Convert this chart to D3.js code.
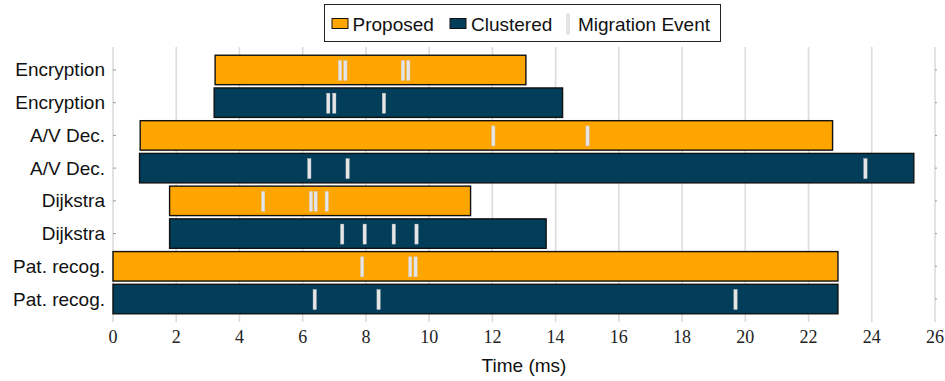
<!DOCTYPE html>
<html>
<head>
<meta charset="utf-8">
<script src="https://cdn.jsdelivr.net/npm/d3@7"></script>
<style>
  html, body { margin: 0; padding: 0; background: #fff; }
  svg { display: block; }
</style>
</head>
<body>
<svg id="chart" width="945" height="381"></svg>
<script>
// Rows from top to bottom: each benchmark as Proposed, then Clustered
const rowLabels = ["Encryption", "Encryption", "A/V Dec.", "A/V Dec.",
                   "Dijkstra", "Dijkstra", "Pat. recog.", "Pat. recog."];
const rowSeries = ["Proposed", "Clustered", "Proposed", "Clustered",
                   "Proposed", "Clustered", "Proposed", "Clustered"];
const startTimes = [3.23, 3.2, 0.86, 0.84, 1.79, 1.79, 0, 0];
const endTimes   = [13.06, 14.22, 22.76, 25.33, 11.31, 13.7, 22.93, 22.93];
// Migration event times (ms) per row
const migrationEvents = [
  [7.18, 7.35, 9.17, 9.34],
  [6.81, 7.0, 8.57],
  [12.03, 15.01],
  [6.21, 7.42, 23.8],
  [4.75, 6.26, 6.41, 6.76],
  [7.25, 7.96, 8.88, 9.6],
  [7.88, 9.4, 9.57],
  [6.38, 8.4, 19.69]
];
const xTicks = [0, 2, 4, 6, 8, 10, 12, 14, 16, 18, 20, 22, 24, 26];
const seriesNames = ["Proposed", "Clustered"];
const seriesColors = ["#ffa500", "#023e5a"];

const svg = d3.select("#chart");
const plotTop = 47, plotBottom = 322;
const x = d3.scaleLinear().domain([0, 26]).range([113, 935]);
const y = d3.scaleBand().domain(d3.range(rowLabels.length))
  .range([53.6, 315.4]).paddingInner(0.1).paddingOuter(0.05);
const color = d3.scaleOrdinal().domain(seriesNames).range(seriesColors);

// Vertical grid lines
svg.append("g").selectAll("line").data(xTicks).join("line")
  .attr("x1", d => x(d)).attr("x2", d => x(d))
  .attr("y1", plotTop).attr("y2", plotBottom)
  .attr("stroke", "#dcdcdc").attr("stroke-width", 1.6);

// Small category ticks on both sides
const tickG = svg.append("g");
d3.range(rowLabels.length).forEach(i => {
  const cy = y(i) + y.bandwidth() / 2;
  tickG.append("line").attr("x1", x(0)).attr("x2", x(0) + 3)
    .attr("y1", cy).attr("y2", cy).attr("stroke", "#999").attr("stroke-width", 1);
  tickG.append("line").attr("x1", x(26)).attr("x2", x(26) + 2)
    .attr("y1", cy).attr("y2", cy).attr("stroke", "#999").attr("stroke-width", 1);
});

// Bars
const rows = d3.range(rowLabels.length).map(i => ({
  i, series: rowSeries[i], start: startTimes[i], end: endTimes[i], events: migrationEvents[i]
}));
svg.append("g").selectAll("rect").data(rows).join("rect")
  .attr("x", d => x(d.start))
  .attr("y", d => y(d.i))
  .attr("width", d => x(d.end) - x(d.start))
  .attr("height", y.bandwidth())
  .attr("fill", d => color(d.series))
  .attr("stroke", "#111").attr("stroke-width", 1.4);

// Migration event markers
const evH = 20, evW = 3.3;
svg.append("g").selectAll("rect")
  .data(rows.flatMap(r => r.events.map(t => ({ i: r.i, t }))))
  .join("rect")
  .attr("x", d => x(d.t) - evW / 2)
  .attr("y", d => y(d.i) + y.bandwidth() / 2 - evH / 2 + 0.5)
  .attr("width", evW).attr("height", evH)
  .attr("fill", "#e6e6e6").attr("stroke", "#c8c8c8").attr("stroke-width", 0.4);

// Category labels
svg.append("g").selectAll("text").data(rows).join("text")
  .attr("x", 105).attr("y", d => y(d.i) + y.bandwidth() / 2 + 6.5)
  .attr("text-anchor", "end")
  .attr("font-family", "'Liberation Sans', Arial, sans-serif")
  .attr("font-size", 19).attr("fill", "#111")
  .text(d => rowLabels[d.i]);

// X tick labels
svg.append("g").selectAll("text").data(xTicks).join("text")
  .attr("x", d => x(d)).attr("y", 342.5)
  .attr("text-anchor", "middle")
  .attr("font-family", "'Liberation Serif', 'Times New Roman', serif")
  .attr("font-size", 18).attr("fill", "#222")
  .text(d => d);

// X axis title
svg.append("text").attr("x", x(13)).attr("y", 372)
  .attr("text-anchor", "middle")
  .attr("font-family", "'Liberation Sans', Arial, sans-serif")
  .attr("font-size", 19).attr("fill", "#111")
  .text("Time (ms)");

// Legend
const lg = svg.append("g");
lg.append("rect").attr("x", 324.5).attr("y", 4.5).attr("width", 396).attr("height", 37)
  .attr("fill", "#fff").attr("stroke", "#222").attr("stroke-width", 1);
const legendItems = [
  { name: "Proposed", sx: 332, tx: 352.5 },
  { name: "Clustered", sx: 450, tx: 471 }
];
legendItems.forEach(it => {
  lg.append("rect").attr("x", it.sx).attr("y", 18.5).attr("width", 16).attr("height", 10)
    .attr("fill", color(it.name)).attr("stroke", "#111").attr("stroke-width", 1);
  lg.append("text").attr("x", it.tx).attr("y", 30.5)
    .attr("font-family", "'Liberation Sans', Arial, sans-serif")
    .attr("font-size", 19).attr("fill", "#111").text(it.name);
});
lg.append("rect").attr("x", 566.5).attr("y", 14).attr("width", 3.3).attr("height", 20)
  .attr("fill", "#e6e6e6").attr("stroke", "#d0d0d0").attr("stroke-width", 0.4);
lg.append("text").attr("x", 578).attr("y", 30.5)
  .attr("font-family", "'Liberation Sans', Arial, sans-serif")
  .attr("font-size", 19).attr("fill", "#111").text("Migration Event");
</script>
</body>
</html>
